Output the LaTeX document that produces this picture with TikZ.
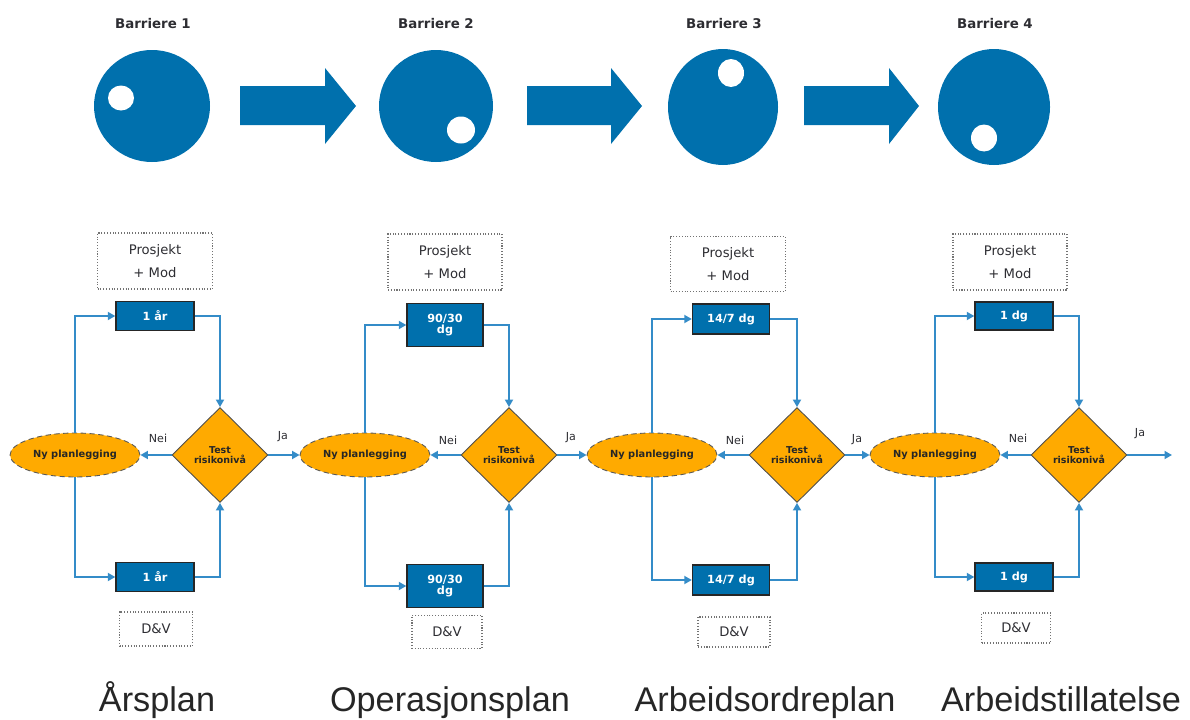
\documentclass[tikz,border=0pt]{standalone}
\usepackage{fontspec}
\setmainfont{DejaVu Sans}
\newfontfamily\arialf{Liberation Sans}
\usetikzlibrary{shapes.geometric,arrows.meta}
\definecolor{bblue}{RGB}{0,112,173}
\definecolor{lblue}{RGB}{52,140,200}
\definecolor{orng}{RGB}{255,170,0}
\definecolor{txtg}{RGB}{45,45,50}
\begin{document}
\begin{tikzpicture}[x=0.02cm,y=-0.02cm,
  bluebox/.style={rectangle,fill=bblue,draw=black!85,line width=0.8pt,text=white,
    font=\fontsize{6.4}{6.6}\selectfont\bfseries,inner sep=0pt,align=center},
  decbox/.style={diamond,fill=orng,draw=black!70,line width=0.5pt,inner sep=0pt,
    minimum width=1.92cm,minimum height=1.9cm,align=center,text=black!85,
    font=\fontsize{5.4}{6}\selectfont\bfseries},
  planell/.style={ellipse,fill=orng,draw=black!65,densely dashed,line width=0.5pt,inner sep=0pt,
    minimum width=2.6cm,minimum height=0.88cm,text=black!85,
    font=\fontsize{5.6}{6}\selectfont\bfseries},
  notebox/.style={rectangle,draw=black!55,densely dotted,line width=0.6pt,inner sep=0pt,
    align=center,text=txtg,font=\fontsize{7.5}{13}\selectfont},
  conn/.style={draw=lblue,line width=1pt,-{Triangle[length=1.5mm,width=1.6mm]}},
  small/.style={text=txtg,font=\fontsize{6.3}{7}\selectfont},
  bartitle/.style={text=txtg,font=\fontsize{7.6}{9}\selectfont\bfseries},
  plantitle/.style={text=black!85,font=\arialf\fontsize{19.5}{22}\selectfont,anchor=base},
  bigarrow/.style={fill=bblue,draw=none},
  barrier/.style={fill=bblue,draw=none},
  hole/.style={fill=white,draw=none}
]
\useasboundingbox (0,0) rectangle (1190,720);

% ---------- barriers ----------
\node[bartitle] (bt1) at (153,24) {Barriere 1};
\node[bartitle] (bt2) at (436,24) {Barriere 2};
\node[bartitle] (bt3) at (724,24) {Barriere 3};
\node[bartitle] (bt4) at (995,24) {Barriere 4};

\fill[barrier] (152,106) ellipse [x radius=58, y radius=56];
\fill[hole] (121,98) ellipse [x radius=13, y radius=12.5];
\fill[barrier] (436,106) ellipse [x radius=57, y radius=56];
\fill[hole] (461,130) ellipse [x radius=14, y radius=13.5];
\fill[barrier] (723,107) ellipse [x radius=55, y radius=58];
\fill[hole] (731,73) ellipse [x radius=13, y radius=14];
\fill[barrier] (994,107) ellipse [x radius=56, y radius=58];
\fill[hole] (984,138) ellipse [x radius=13, y radius=13.5];

\fill[bigarrow] (240,86) -- (325,86) -- (325,68) -- (356,106) -- (325,144) -- (325,125) -- (240,125) -- cycle;
\fill[bigarrow] (527,86) -- (611,86) -- (611,68) -- (642,106) -- (611,144) -- (611,125) -- (527,125) -- cycle;
\fill[bigarrow] (804,86) -- (889,86) -- (889,68) -- (919,106) -- (889,144) -- (889,125) -- (804,125) -- cycle;

% ---------- section 1 ----------
\node[notebox,minimum width=2.3cm,minimum height=1.12cm] (p1) at (155,261) {Prosjekt\\+ Mod};
\node[bluebox,minimum width=1.56cm,minimum height=0.58cm] (t1) at (155,316) {1 år};
\node[bluebox,minimum width=1.56cm,minimum height=0.58cm] (b1) at (155,577) {1 år};
\node[planell] (e1) at (75,455) {Ny planlegging};
\node[decbox] (d1) at (220,455) {Test\\risikonivå};
\node[notebox,minimum width=1.46cm,minimum height=0.68cm] (v1) at (156,629) {D\&V};

% ---------- section 2 ----------
\node[notebox,minimum width=2.28cm,minimum height=1.12cm] (p2) at (445,262) {Prosjekt\\+ Mod};
\node[bluebox,minimum width=1.52cm,minimum height=0.86cm] (t2) at (445,325) {90/30\\dg};
\node[bluebox,minimum width=1.52cm,minimum height=0.86cm] (b2) at (445,586) {90/30\\dg};
\node[planell] (e2) at (365,455) {Ny planlegging};
\node[decbox] (d2) at (509,455) {Test\\risikonivå};
\node[notebox,minimum width=1.4cm,minimum height=0.66cm] (v2) at (447,632) {D\&V};

% ---------- section 3 ----------
\node[notebox,minimum width=2.3cm,minimum height=1.1cm] (p3) at (728,264) {Prosjekt\\+ Mod};
\node[bluebox,minimum width=1.54cm,minimum height=0.6cm] (t3) at (731,319) {14/7 dg};
\node[bluebox,minimum width=1.54cm,minimum height=0.6cm] (b3) at (731,580) {14/7 dg};
\node[planell] (e3) at (652,455) {Ny planlegging};
\node[decbox] (d3) at (797,455) {Test\\risikonivå};
\node[notebox,minimum width=1.44cm,minimum height=0.6cm] (v3) at (734,632) {D\&V};

% ---------- section 4 ----------
\node[notebox,minimum width=2.28cm,minimum height=1.12cm] (p4) at (1010,262) {Prosjekt\\+ Mod};
\node[bluebox,minimum width=1.56cm,minimum height=0.56cm] (t4) at (1014,316) {1 dg};
\node[bluebox,minimum width=1.56cm,minimum height=0.56cm] (b4) at (1014,577) {1 dg};
\node[planell] (e4) at (935,455) {Ny planlegging};
\node[decbox] (d4) at (1079,455) {Test\\risikonivå};
\node[notebox,minimum width=1.38cm,minimum height=0.6cm] (v4) at (1016,628) {D\&V};
\coordinate (out) at (1172,455);

% ---------- connectors ----------
\foreach \i in {1,2,3,4}{
  \draw[conn] (e\i.north) |- (t\i.west);
  \draw[conn] (t\i.east) -| (d\i.north);
  \draw[conn] (e\i.south) |- (b\i.west);
  \draw[conn] (b\i.east) -| (d\i.south);
  \draw[conn] (d\i.west) -- (e\i.east);
}
\draw[conn] (d1.east) -- (e2.west);
\draw[conn] (d2.east) -- (e3.west);
\draw[conn] (d3.east) -- (e4.west);
\draw[conn] (d4.east) -- (out);

% labels
\node[small] (n1) at (158,438) {Nei};
\node[small] (n2) at (448,440) {Nei};
\node[small] (n3) at (735,440) {Nei};
\node[small] (n4) at (1018,438) {Nei};
\node[small] (j1) at (283,437) {Ja};
\node[small] (j2) at (571,438) {Ja};
\node[small] (j3) at (857,440) {Ja};
\node[small] (j4) at (1140,434) {Ja};

% ---------- plan titles ----------
\node[plantitle] (l1) at (157,711) {Årsplan};
\node[plantitle] (l2) at (450,711) {Operasjonsplan};
\node[plantitle] (l3) at (765,711) {Arbeidsordreplan};
\node[plantitle] (l4) at (1061,711) {Arbeidstillatelse};
\end{tikzpicture}
\end{document}
